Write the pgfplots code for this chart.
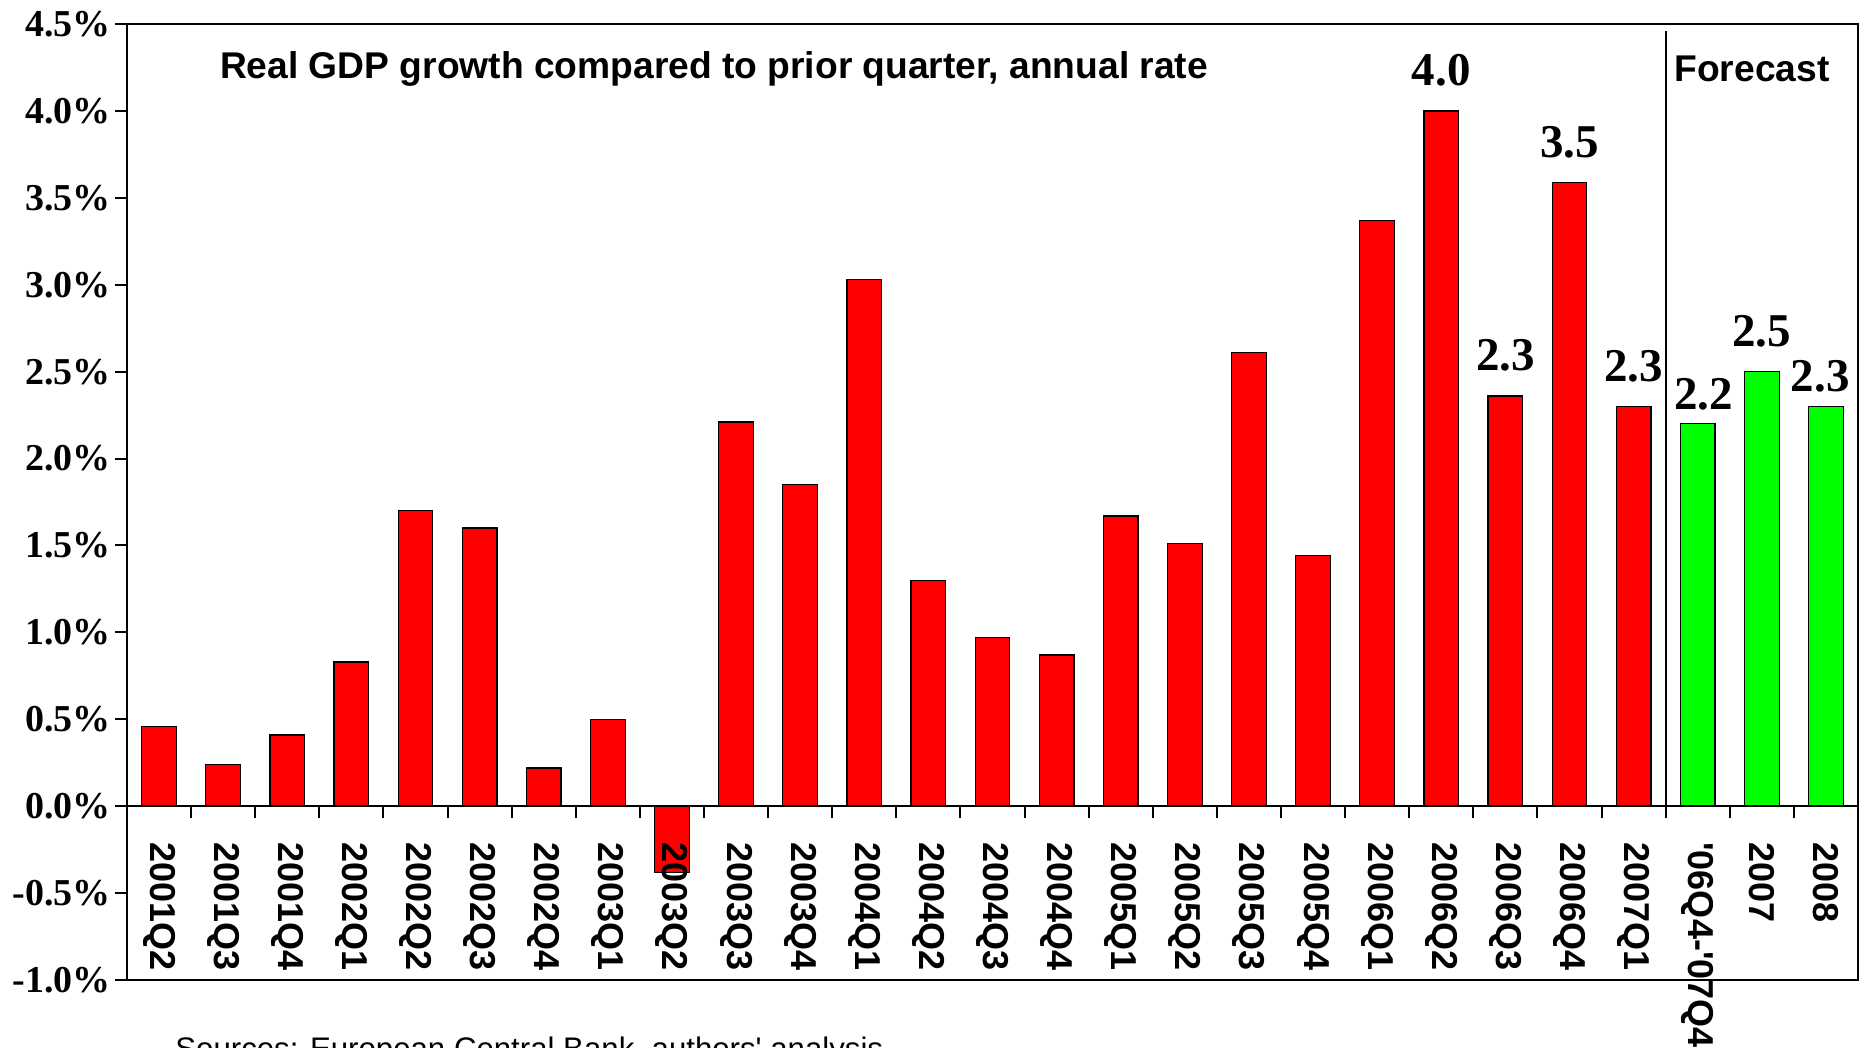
\documentclass[border=0pt]{standalone}
\usepackage{pgfplots}
\pgfplotsset{compat=1.18}
\usepackage{fontspec}
\setmainfont{Liberation Serif}
\newfontfamily\arial{Liberation Sans}
\definecolor{barred}{RGB}{255,0,0}
\definecolor{bargreen}{RGB}{0,255,0}
\begin{document}
\begin{tikzpicture}
\useasboundingbox (0,0) rectangle (931pt,524pt);
\begin{axis}[
  at={(63.5pt,34pt)}, anchor=south west,
  scale only axis, width=865.5pt, height=478pt,
  xmin=-0.5, xmax=26.5, ymin=-1, ymax=4.5,
  axis on top,
  axis line style={line width=1pt},
  ytick={-1,-0.5,0,0.5,1,1.5,2,2.5,3,3.5,4,4.5},
  yticklabels={-1.0\%,-0.5\%,0.0\%,0.5\%,1.0\%,1.5\%,2.0\%,2.5\%,3.0\%,3.5\%,4.0\%,4.5\%},
  yticklabel style={font=\bfseries\fontsize{19}{19}\selectfont, inner sep=2pt},
  ytick pos=left,
  ytick align=outside,
  major tick length=6pt,
  ytick style={line width=1pt, black},
  xtick={0,...,26},
  xticklabels={2001Q2,2001Q3,2001Q4,2002Q1,2002Q2,2002Q3,2002Q4,2003Q1,2003Q2,2003Q3,2003Q4,2004Q1,2004Q2,2004Q3,2004Q4,2005Q1,2005Q2,2005Q3,2005Q4,2006Q1,2006Q2,2006Q3,2006Q4,2007Q1,\textquotesingle 06Q4-\textquotesingle 07Q4,2007,2008},
  xtick style={draw=none},
  xticklabel style={rotate=-90, anchor=west, inner sep=0pt, font=\arial\bfseries\fontsize{18}{18}\selectfont},
  xticklabel shift=-69pt,
  clip=false,
]
\addplot[ybar, bar width=0.54, fill=barred, draw=black, line width=0.6pt] table {
x y
0 0.46
1 0.24
2 0.41
3 0.83
4 1.70
5 1.60
6 0.22
7 0.50
8 -0.38
9 2.21
10 1.85
11 3.03
12 1.30
13 0.97
14 0.87
15 1.67
16 1.51
17 2.61
18 1.44
19 3.37
20 4.00
21 2.36
22 3.59
23 2.30
};
\addplot[ybar, bar width=0.54, fill=bargreen, draw=black, line width=0.6pt] table {
x y
24 2.20
25 2.50
26 2.30
};
\addplot[only marks, mark=*, mark size=0pt, mark options={draw=none, fill=none},
  nodes near coords, point meta=explicit symbolic,
  every node near coord/.append style={anchor=south, inner sep=0pt, yshift=12pt,
    font=\bfseries\fontsize{23.5}{23.5}\selectfont, text=black}]
  table[meta=label] {
x y label
20 4.00 4.0
21 2.36 2.3
22 3.59 3.5
23 2.30 2.3
24.09 2.14 2.2
25 2.50 2.5
25.91 2.24 2.3
};
\draw[line width=1pt] (axis cs:-0.5,0) -- (axis cs:26.5,0);
\pgfplotsinvokeforeach{0.5,1.5,...,25.5}{\draw[line width=1pt] (axis cs:#1,0) -- ++(0pt,-6pt);}
\draw[line width=0.9pt] (axis cs:23.5,0) -- (axis cs:23.5,4.46);
\end{axis}
\node[font=\arial\bfseries\fontsize{18.6}{18.6}\selectfont, anchor=west, inner sep=0pt] at (109.8pt,489.5pt) {Real GDP growth compared to prior quarter, annual rate};
\node[font=\arial\bfseries\fontsize{18.6}{18.6}\selectfont, anchor=west, inner sep=0pt] at (837pt,489.5pt) {Forecast};
\node[font=\arial\fontsize{15.6}{15.6}\selectfont, anchor=base west, inner sep=0pt] at (87.5pt,-6pt) {Sources: European Central Bank, authors' analysis};
\end{tikzpicture}
\end{document}
